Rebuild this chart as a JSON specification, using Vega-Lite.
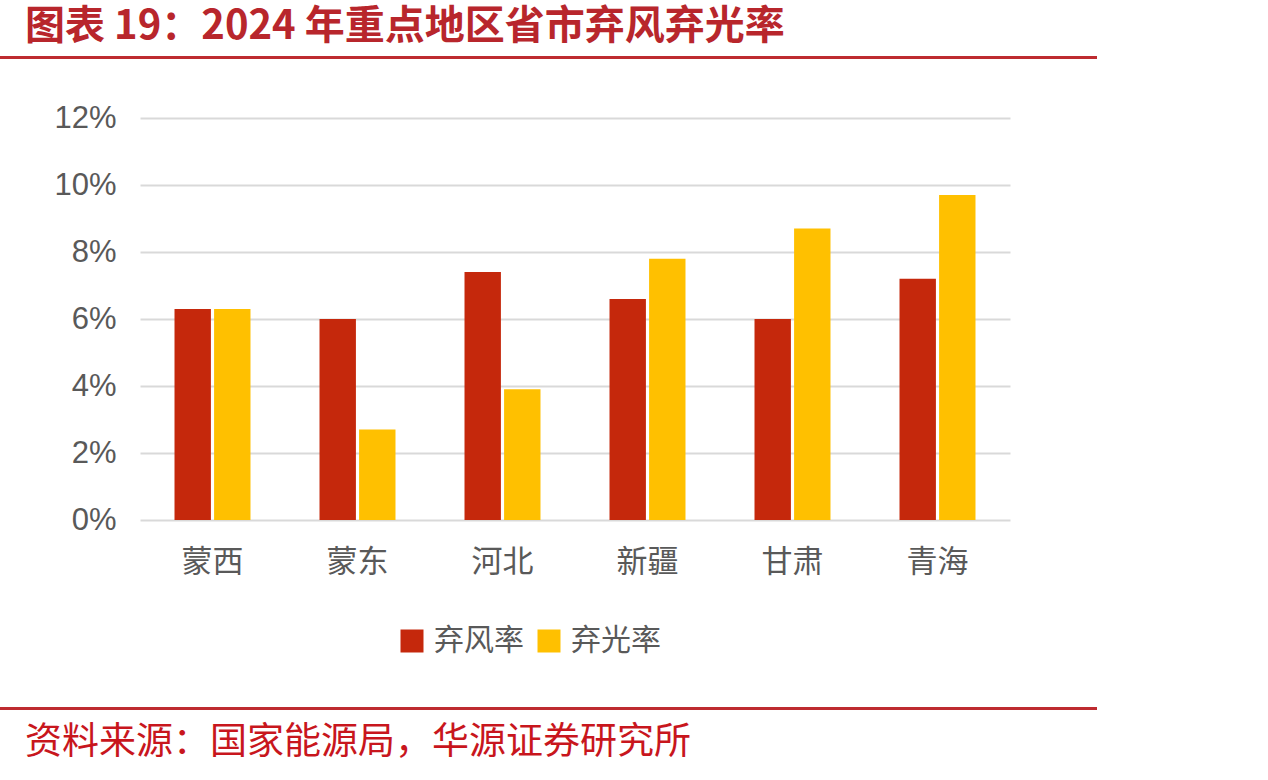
{
  "$schema": "https://vega.github.io/schema/vega-lite/v6.json",
  "padding": {"top": 7, "left": 0, "right": 0, "bottom": 0},
  "background": "white",
  "spacing": 43,
  "columns": 1,
  "align": "none",
  "resolve": {"legend": {"color": "independent"}},
  "config": {"view": {"stroke": null}},
  "concat": [
    {
      "width": 1097,
      "height": 3,
      "view": {"fill": "#BE2B30", "stroke": null},
      "title": {
        "text": "图表 19：2024 年重点地区省市弃风弃光率",
        "anchor": "start",
        "dx": 25,
        "offset": 9,
        "font": "Noto Sans CJK SC",
        "fontSize": 40,
        "fontWeight": "bold",
        "color": "#B8262C"
      },
      "data": {"values": []},
      "mark": "rule",
      "encoding": {}
    },
    {
      "width": 1010,
      "height": 402,
      "data": {
        "values": [
          {"region": "蒙西", "type": "弃风率", "value": 0.063},
          {"region": "蒙西", "type": "弃光率", "value": 0.063},
          {"region": "蒙东", "type": "弃风率", "value": 0.060},
          {"region": "蒙东", "type": "弃光率", "value": 0.027},
          {"region": "河北", "type": "弃风率", "value": 0.074},
          {"region": "河北", "type": "弃光率", "value": 0.039},
          {"region": "新疆", "type": "弃风率", "value": 0.066},
          {"region": "新疆", "type": "弃光率", "value": 0.078},
          {"region": "甘肃", "type": "弃风率", "value": 0.060},
          {"region": "甘肃", "type": "弃光率", "value": 0.087},
          {"region": "青海", "type": "弃风率", "value": 0.072},
          {"region": "青海", "type": "弃光率", "value": 0.097}
        ]
      },
      "mark": {"type": "bar"},
      "encoding": {
        "x": {
          "field": "region",
          "type": "nominal",
          "sort": null,
          "scale": {"range": [140, 1010], "paddingInner": 0.476, "paddingOuter": 0.238},
          "axis": {
            "title": null,
            "labelAngle": 0,
            "labelFont": "Noto Sans CJK SC",
            "labelFontSize": 31,
            "labelColor": "#595959",
            "labelPadding": 27,
            "ticks": false,
            "domain": false
          }
        },
        "xOffset": {
          "field": "type",
          "sort": ["弃风率", "弃光率"],
          "scale": {"paddingInner": 0.08}
        },
        "y": {
          "field": "value",
          "type": "quantitative",
          "scale": {"domain": [0, 0.12]},
          "axis": {
            "title": null,
            "format": ".0%",
            "values": [0, 0.02, 0.04, 0.06, 0.08, 0.1, 0.12],
            "labelFont": "Liberation Sans",
            "labelFontSize": 31,
            "labelColor": "#595959",
            "labelPadding": 0,
            "offset": -116,
            "ticks": false,
            "domain": false,
            "gridColor": "#D9D9D9",
            "gridWidth": 2
          }
        },
        "color": {
          "field": "type",
          "type": "nominal",
          "scale": {"domain": ["弃风率", "弃光率"], "range": ["#C5280C", "#FFC000"]},
          "legend": {
            "title": null,
            "orient": "none",
            "legendX": 389,
            "legendY": 500,
            "padding": 8,
            "direction": "horizontal",
            "symbolType": "square",
            "symbolSize": 529,
            "symbolStrokeWidth": 0,
            "labelFont": "Noto Sans CJK SC",
            "labelFontSize": 30,
            "labelColor": "#595959",
            "labelOffset": 7,
            "columnPadding": 10
          }
        }
      }
    },
    {
      "width": 1097,
      "height": 3,
      "view": {"fill": "#BE2B30", "stroke": null},
      "title": {
        "text": "资料来源：国家能源局，华源证券研究所",
        "orient": "bottom",
        "anchor": "start",
        "dx": 25,
        "offset": 15,
        "font": "Noto Sans CJK SC",
        "fontSize": 37,
        "fontWeight": "normal",
        "color": "#C8161D"
      },
      "data": {"values": []},
      "mark": "rule",
      "encoding": {}
    }
  ]
}
